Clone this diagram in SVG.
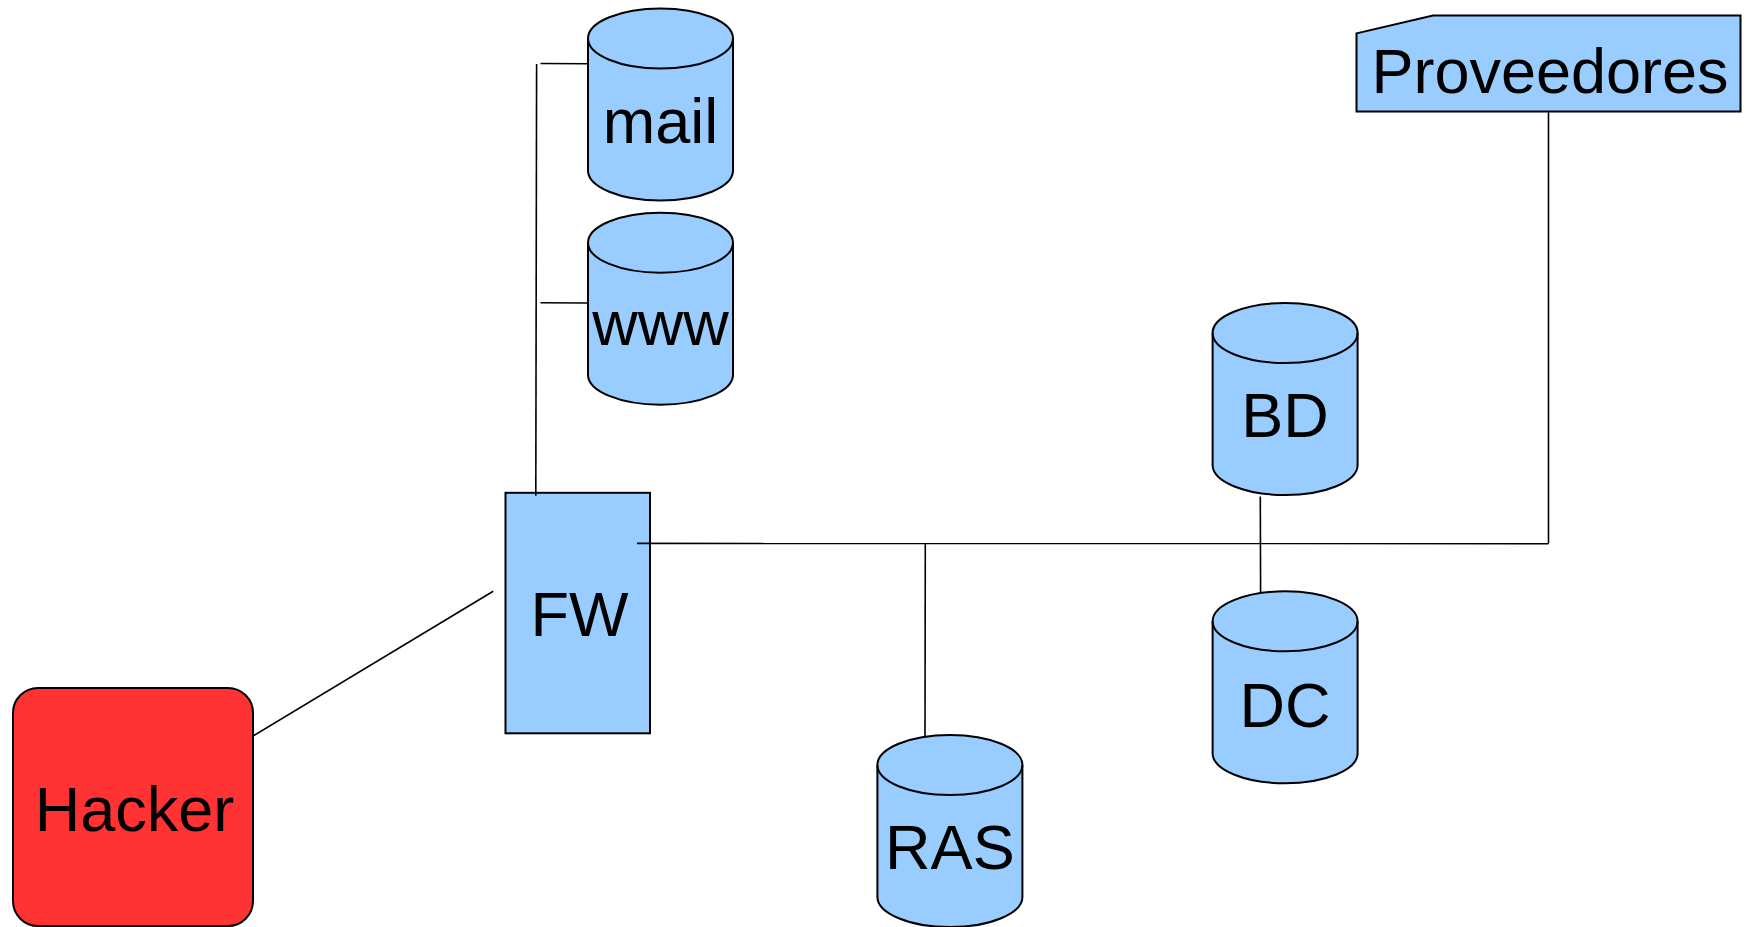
<svg xmlns="http://www.w3.org/2000/svg" xmlns:xlink="http://www.w3.org/1999/xlink" width="1746" height="927" viewBox="0 0 1746 927">
  <defs>
    <style>
      .node { fill: #99ccff; stroke: #000; stroke-width: 2; }
      .rim { fill: none; stroke: #000; stroke-width: 2; }
      .hacker { fill: #ff3333; stroke: #000; stroke-width: 2; }
      .label { font-family: "Liberation Sans", Arial, sans-serif; font-size: 63px; fill: #000; text-anchor: middle; }
      .wire { fill: none; stroke: #000; stroke-width: 1.6; }
    </style>
    <!-- cylinder: 145 wide, 192 tall, end caps with ry=30 -->
    <path id="cyl" d="M0,30 A72.5,30 0 0 1 145,30 V162 A72.5,30 0 0 1 0,162 Z"/>
    <path id="cyltop" d="M0,30 A72.5,30 0 0 0 145,30"/>
  </defs>

  <rect width="1746" height="927" fill="#ffffff"/>

  <g id="mail" transform="translate(588,8.5)">
    <use href="#cyl" class="node"/>
    <use href="#cyltop" class="rim"/>
    <text class="label" x="72.5" y="134.5">mail</text>
  </g>

  <g id="www" transform="translate(588,212.7)">
    <use href="#cyl" class="node"/>
    <use href="#cyltop" class="rim"/>
    <text class="label" x="72.5" y="132.5">www</text>
  </g>

  <g id="BD" transform="translate(1212.6,303)">
    <use href="#cyl" class="node"/>
    <use href="#cyltop" class="rim"/>
    <text class="label" x="72.5" y="133.5">BD</text>
  </g>

  <g id="DC" transform="translate(1212.6,591.3)">
    <use href="#cyl" class="node"/>
    <use href="#cyltop" class="rim"/>
    <text class="label" x="72.5" y="135.5">DC</text>
  </g>

  <g id="RAS" transform="translate(877.4,735)">
    <use href="#cyl" class="node"/>
    <use href="#cyltop" class="rim"/>
    <text class="label" x="72.5" y="134.3">RAS</text>
  </g>

  <g id="Proveedores">
    <path class="node" d="M1356.5,33.4 L1433,15.6 L1740.5,15.6 L1740.5,111.4 L1356.5,111.4 Z"/>
    <text class="label" x="1550" y="93.3">Proveedores</text>
  </g>

  <g id="FW">
    <rect class="node" x="505.5" y="492.8" width="144.5" height="240.5"/>
    <text class="label" x="579.5" y="635.7">FW</text>
  </g>

  <g id="Hacker">
    <rect class="hacker" x="13" y="688" width="240" height="238" rx="25" ry="25"/>
    <text class="label" x="134.5" y="830.7">Hacker</text>
  </g>

  <g id="connectors">
    <!-- FW up to the DMZ servers -->
    <line class="wire" x1="535.8" y1="495.7" x2="536.6" y2="64"/>
    <line class="wire" x1="540.5" y1="63.5" x2="588" y2="63.8"/>
    <line class="wire" x1="540.5" y1="302.8" x2="588" y2="303"/>
    <!-- internal bus -->
    <line class="wire" x1="637" y1="543.4" x2="1548.5" y2="543.6"/>
    <line class="wire" x1="1548.5" y1="543.6" x2="1548.5" y2="111.4"/>
    <line class="wire" x1="925.3" y1="543.4" x2="925" y2="737"/>
    <line class="wire" x1="1260.3" y1="496.5" x2="1260.6" y2="592.5"/>
    <!-- outside link -->
    <line class="wire" x1="253.8" y1="735.5" x2="493.2" y2="591.3"/>
  </g>
</svg>
